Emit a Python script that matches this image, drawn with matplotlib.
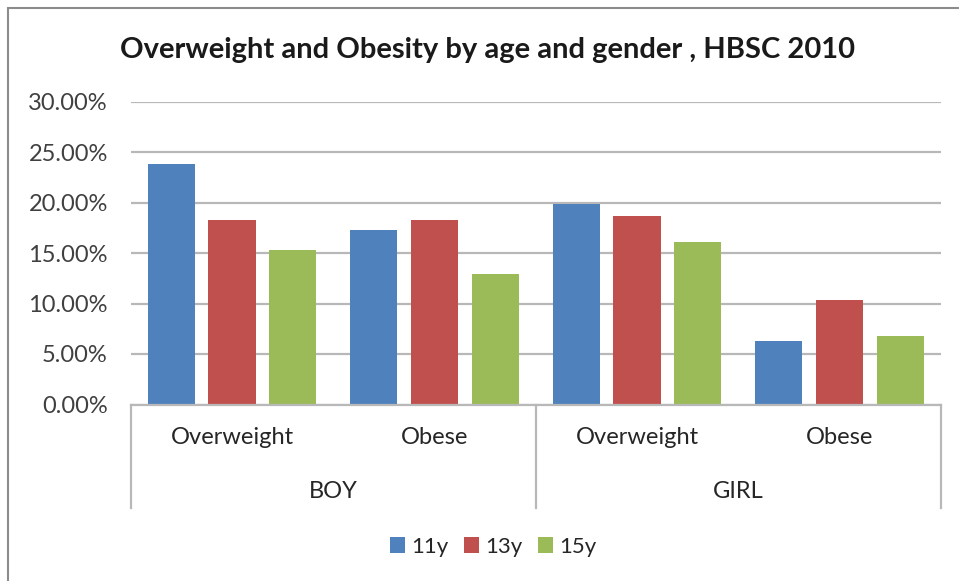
import matplotlib
matplotlib.use("Agg")
import matplotlib.pyplot as plt
import numpy as np
from matplotlib.patches import Patch, Rectangle
from matplotlib.ticker import FuncFormatter

plt.rcParams['font.family'] = ['Lato', 'DejaVu Sans']

genders = ["BOY", "GIRL"]
categories = ["Overweight", "Obese", "Overweight", "Obese"]
series_names = ["11y", "13y", "15y"]
v11 = [23.8, 17.3, 19.9, 6.3]
v13 = [18.3, 18.3, 18.7, 10.3]
v15 = [15.25, 12.9, 16.1, 6.8]
colors = ["#4F81BD", "#C0504D", "#9BBB59"]
title = "Overweight and Obesity by age and gender , HBSC 2010"

W, H = 959, 581
fig = plt.figure(figsize=(W / 100, H / 100), dpi=100)

# outer frame
fig.patches.append(Rectangle((8 / W, -0.01), 1.1, (H - 8) / H + 0.01, transform=fig.transFigure,
                             fill=False, edgecolor="#8c8c8c", linewidth=1.5))

left, right, top, bot = 130.7, 940.7, 101.5, 404.5
ax = fig.add_axes([left / W, (H - bot) / H, (right - left) / W, (bot - top) / H])

x = np.arange(len(categories))
width = 0.234
offset = 0.3
for i, (vals, c) in enumerate(zip([v11, v13, v15], colors)):
    ax.bar(x + (i - 1) * offset, vals, width, color=c, zorder=3, linewidth=0)

ax.set_xlim(-0.5, 3.5)
ax.set_ylim(0, 30)
ax.set_yticks(np.arange(0, 30.1, 5))
ax.yaxis.set_major_formatter(FuncFormatter(lambda v, p: f"{v:.2f}%"))
ax.tick_params(axis='y', length=0, pad=16.5, labelsize=17, labelcolor="#404040")
ax.set_xticks([])
ax.grid(axis='y', color="#b8b8b8", linewidth=1.6, zorder=0)
for s in ax.spines.values():
    s.set_visible(False)
ax.axhline(0, color="#b8b8b8", linewidth=1.6, zorder=4, clip_on=False)

# category axis
trans = ax.get_xaxis_transform()
depth = (508 - bot) / (bot - top)
for xv in [-0.5, 1.5, 3.5]:
    ax.plot([xv, xv], [0, -depth], transform=trans, color="#b8b8b8", linewidth=1.6, clip_on=False)
for xi, lab in zip(x, categories):
    ax.text(xi, -(438 - bot) / (bot - top), lab, transform=trans, ha='center', va='center',
            fontsize=17, color="#262626")
for gi, g in enumerate(genders):
    ax.text(0.5 + 2 * gi, -(492 - bot) / (bot - top), g, transform=trans, ha='center', va='center',
            fontsize=17, color="#262626")

fig.text(487.5 / W, (H - 50) / H, title, ha='center', va='center', fontsize=21,
         fontweight='bold', color="#1a1a1a")

handles = [Patch(facecolor=c, edgecolor='none') for c in colors]
fig.legend(handles, series_names, loc='center', bbox_to_anchor=(493 / W, (H - 547) / H), ncol=3,
           frameon=False, fontsize=16, handlelength=0.7, handleheight=0.7,
           handletextpad=0.25, columnspacing=0.7, labelcolor="#262626")

fig.savefig("out.png", dpi=100)
